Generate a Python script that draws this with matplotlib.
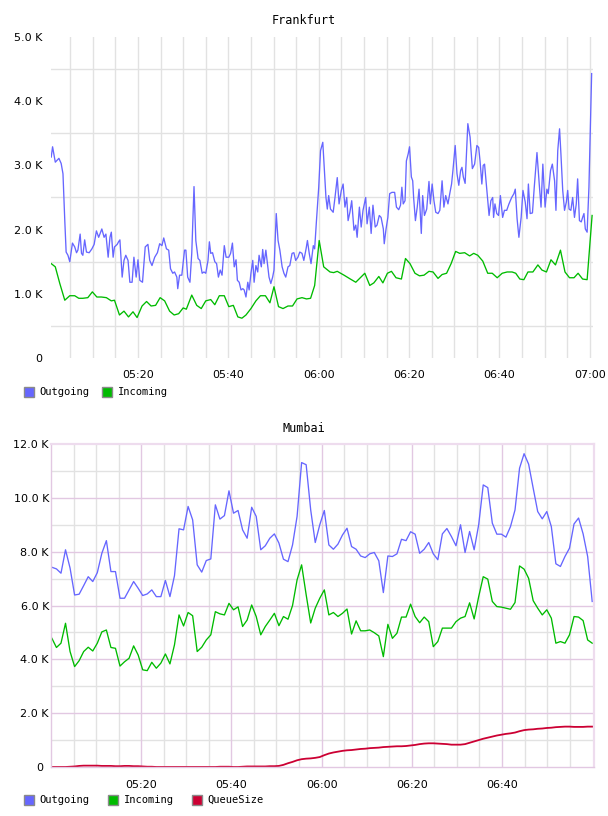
import numpy as np
import matplotlib
matplotlib.use("Agg")
import matplotlib.pyplot as plt
from matplotlib.patches import Rectangle
from matplotlib.transforms import ScaledTranslation

# ---------------- data (times in minutes after 05:00, values in K) -------------
fra_out_min = [0.8, 1.1, 1.7, 2.5, 3.0, 3.4, 3.8, 4.1, 4.5, 4.9, 5.5, 6.0, 6.4, 6.7, 7.2, 7.5, 7.8, 8.2, 8.6, 9.2,
               9.8, 10.3, 10.8, 11.3, 12.0, 12.5, 12.9, 13.4, 13.8, 14.1, 14.5, 14.8, 15.4, 15.7, 16.0, 16.5, 16.9, 17.3, 17.8, 18.2,
               18.7, 19.1, 19.6, 20.0, 20.4, 21.0, 21.6, 22.2, 22.6, 23.1, 23.7, 24.3, 24.8, 25.3, 25.7, 26.3, 26.8, 27.2, 27.7, 28.1,
               28.6, 28.8, 29.2, 29.7, 30.3, 30.6,
               31.0, 31.5, 31.9, 32.4, 32.8, 33.3, 33.7, 34.2, 34.6, 35.0, 35.5, 35.8, 36.1, 36.5, 37.0, 37.4, 37.8, 38.2, 38.6, 39.1,
               39.5, 40.1, 40.5, 40.9, 41.3, 41.7, 42.0, 42.4, 42.8, 43.2, 43.5, 43.9, 44.3, 44.6, 45.0, 45.4, 45.7, 46.1, 46.5, 46.8,
               47.3, 47.6, 47.9, 48.3, 48.7, 49.0, 49.4, 49.8, 50.1, 50.6, 51.0, 51.4, 51.9, 52.3, 52.7, 53.2, 53.6, 54.1, 54.5, 54.9,
               55.4, 55.8, 56.3, 56.7, 57.2, 57.5, 57.9, 58.3, 58.8, 59.1, 59.5, 60.0, 60.4, 60.9, 61.2, 61.6,
               61.9, 62.2, 62.6, 63.2, 63.6, 64.1, 64.5, 65.0, 65.4, 65.8, 66.2, 66.5, 66.9, 67.3, 67.8, 68.2, 68.5, 69.0, 69.4, 69.8,
               70.4, 70.7, 71.2, 71.6, 72.0, 72.5, 72.9, 73.4, 73.8, 74.3, 74.5, 74.9, 75.3, 75.7, 76.2, 76.8, 77.2, 77.7, 78.1, 78.4,
               78.7, 79.1, 79.4, 79.8, 80.1, 80.5, 80.8, 81.0, 81.4, 81.8, 82.2, 82.7, 83.0, 83.4, 83.9, 84.4, 84.7, 85.1, 85.5, 85.9,
               86.4, 86.8, 87.3, 87.7, 88.1, 88.6, 89.0, 89.4, 89.7, 90.2, 90.6, 91.0, 91.4, 91.7,
               92.0, 92.4, 93.0, 93.5, 94.0, 94.5, 95.0, 95.4, 95.7, 96.1, 96.4, 96.7, 97.2, 97.7, 98.1, 98.5, 98.7, 99.0, 99.4, 99.8,
               100.2, 100.7, 101.1, 101.6, 102.1, 102.7, 103.2, 103.5, 103.9, 104.3, 104.8, 105.2, 105.7, 106.1, 106.4, 106.8, 107.3, 107.7, 108.3, 108.8,
               109.2, 109.6, 110.1, 110.5, 110.8, 111.3, 111.7, 112.2, 112.5, 112.9, 113.3, 113.6, 114.0, 114.4, 114.8, 115.1, 115.4, 115.8, 116.2, 116.6,
               117.0, 117.3, 117.7, 118.1, 118.4, 118.7, 119.0, 119.4, 119.8, 120.4]
fra_out_k = [3.13, 3.29, 3.05, 3.11, 3.03, 2.87, 2.14, 1.65, 1.60, 1.50, 1.79, 1.73, 1.64, 1.68, 1.93, 1.63, 1.60, 1.84, 1.65, 1.64,
             1.70, 1.77, 1.98, 1.88, 2.01, 1.88, 1.93, 1.57, 1.88, 1.96, 1.57, 1.73, 1.77, 1.81, 1.84, 1.26, 1.52, 1.60, 1.52, 1.18,
             1.18, 1.57, 1.26, 1.53, 1.21, 1.18, 1.73, 1.77, 1.52, 1.44, 1.57, 1.64, 1.78, 1.75, 1.87, 1.70, 1.68, 1.39, 1.32, 1.34,
             1.26, 1.08, 1.29, 1.29, 1.68, 1.68,
             1.26, 1.18, 1.63, 2.67, 1.83, 1.55, 1.52, 1.32, 1.34, 1.32, 1.52, 1.81, 1.63, 1.64, 1.50, 1.47, 1.26, 1.37, 1.29, 1.75,
             1.57, 1.57, 1.63, 1.79, 1.42, 1.53, 1.21, 1.18, 1.06, 1.08, 1.06, 0.95, 1.18, 1.06, 1.32, 1.52, 1.18, 1.44, 1.34, 1.60,
             1.42, 1.69, 1.47, 1.68, 1.44, 1.26, 1.16, 1.26, 1.37, 2.25, 1.83, 1.68, 1.42, 1.32, 1.26, 1.42, 1.44, 1.63, 1.64, 1.52,
             1.57, 1.65, 1.63, 1.52, 1.70, 1.83, 1.63, 1.47, 1.75, 1.70, 2.14, 2.66, 3.23, 3.36, 3.00, 2.50,
             2.32, 2.53, 2.32, 2.27, 2.50, 2.81, 2.40, 2.61, 2.71, 2.35, 2.50, 2.14, 2.27, 2.45, 1.99, 2.07, 1.88, 2.35, 2.04, 2.30,
             2.50, 2.09, 2.35, 1.94, 2.38, 2.04, 2.07, 2.22, 2.19, 2.01, 1.78, 2.01, 2.19, 2.56, 2.58, 2.58, 2.35, 2.31, 2.38, 2.66,
             2.40, 2.45, 3.07, 3.18, 3.29, 2.82, 2.76, 2.50, 2.14, 2.35, 2.63, 1.94, 2.53, 2.22, 2.32, 2.75, 2.40, 2.71, 2.45, 2.27,
             2.25, 2.30, 2.76, 2.35, 2.53, 2.40, 2.56, 2.71, 2.92, 3.31, 2.87, 2.69, 2.92, 2.97,
             2.82, 2.72, 3.65, 3.44, 2.95, 3.02, 3.31, 3.28, 3.07, 2.71, 3.00, 3.02, 2.61, 2.22, 2.45, 2.50, 2.19, 2.40, 2.25, 2.22,
             2.53, 2.19, 2.30, 2.30, 2.40, 2.50, 2.56, 2.63, 2.17, 1.88, 2.19, 2.61, 2.43, 2.17, 2.71, 2.25, 2.26, 2.66, 3.20, 2.71,
             2.35, 3.02, 2.35, 2.63, 2.56, 2.92, 3.02, 2.76, 2.30, 3.23, 3.57, 3.18, 2.61, 2.30, 2.43, 2.61, 2.32, 2.30, 2.50, 2.19,
             2.40, 2.79, 2.14, 2.12, 2.19, 2.25, 2.01, 1.96, 2.66, 4.43]

fra_in_min = [0.8, 1.7, 2.7, 3.8, 4.9, 6.0, 6.9, 7.8, 8.9, 9.9, 10.9, 11.9, 13.0, 14.1, 14.8, 15.9, 16.9, 17.9, 18.9, 19.8,
              20.9, 21.9, 22.9, 23.9, 24.9, 25.9, 27.0, 28.0, 29.0, 30.0, 30.7, 31.9, 33.0, 34.0, 35.0, 36.1, 37.0, 38.0, 39.1, 40.1,
              41.1, 42.1, 43.0, 43.9, 45.0, 46.1, 47.1, 48.2, 49.2, 50.1, 51.1, 52.1, 53.2, 54.2, 55.2, 56.3, 57.3, 58.2, 59.1, 60.1,
              61.1, 62.5, 63.3, 64.1, 65.6, 67.0, 68.2, 69.2, 70.2, 71.3, 72.2, 73.3, 74.2, 75.2, 76.1, 77.1, 78.3, 79.2, 80.2, 81.3,
              82.3, 83.3, 84.4, 85.3, 86.4, 87.3, 88.3, 89.3, 90.3, 91.2, 92.3, 93.4, 94.3, 95.2, 96.3, 97.4, 98.4, 99.5, 100.6, 101.7,
              102.8, 103.6, 104.5, 105.4, 106.3, 107.4, 108.5, 109.4, 110.4, 111.4, 112.4, 113.5, 114.5, 115.5, 116.5, 117.4, 118.4, 119.4, 120.5]
fra_in_k = [1.47, 1.42, 1.16, 0.90, 0.97, 0.97, 0.93, 0.93, 0.94, 1.03, 0.95, 0.95, 0.94, 0.89, 0.90, 0.67, 0.73, 0.64, 0.72, 0.63,
            0.81, 0.88, 0.81, 0.82, 0.94, 0.89, 0.73, 0.67, 0.69, 0.78, 0.76, 0.98, 0.82, 0.77, 0.89, 0.91, 0.83, 0.97, 0.97, 0.80,
            0.82, 0.64, 0.62, 0.67, 0.77, 0.89, 0.97, 0.97, 0.86, 1.11, 0.80, 0.77, 0.81, 0.81, 0.92, 0.94, 0.92, 0.93, 1.13, 1.83,
            1.42, 1.34, 1.33, 1.35, 1.29, 1.23, 1.18, 1.25, 1.32, 1.13, 1.17, 1.27, 1.17, 1.32, 1.35, 1.25, 1.23, 1.55, 1.47, 1.32,
            1.28, 1.29, 1.35, 1.34, 1.24, 1.30, 1.32, 1.47, 1.66, 1.63, 1.64, 1.59, 1.63, 1.60, 1.51, 1.32, 1.32, 1.25, 1.32, 1.34,
            1.34, 1.32, 1.23, 1.22, 1.34, 1.34, 1.45, 1.37, 1.34, 1.53, 1.45, 1.68, 1.34, 1.25, 1.25, 1.32, 1.23, 1.22, 2.22]

# Mumbai: one sample per minute from 05:00
mum_out_k = [7.42, 7.36, 7.20, 8.07, 7.39, 6.39, 6.42, 6.74, 7.07, 6.89, 7.22, 7.94, 8.41, 7.26, 7.26, 6.27, 6.27, 6.58, 6.89, 6.64,
             6.37, 6.43, 6.58, 6.33, 6.33, 6.93, 6.33, 7.11, 8.85, 8.81, 9.68, 9.18, 7.51, 7.24, 7.67, 7.73, 9.74, 9.21, 9.34, 10.26,
             9.43, 9.53, 8.81, 8.50, 9.65, 9.31, 8.07, 8.22, 8.50, 8.66, 8.32, 7.72, 7.63, 8.25, 9.31, 11.31,
             11.23, 9.55, 8.34, 9.00, 9.53, 8.25, 8.09, 8.28, 8.62, 8.87, 8.19, 8.09, 7.84, 7.78, 7.92, 7.97, 7.66, 6.48, 7.84, 7.82,
             7.92, 8.46, 8.41, 8.74, 8.65, 7.94, 8.09, 8.34, 7.92, 7.70, 8.66, 8.86, 8.56, 8.22, 9.00, 7.97, 8.75, 8.07, 9.00, 10.48,
             10.38, 9.06, 8.65, 8.65, 8.54, 8.93, 9.55, 11.10, 11.64, 11.25, 10.36, 9.49, 9.22, 9.49, 8.93, 7.55, 7.45, 7.82, 8.13, 9.03,
             9.25, 8.66, 7.82, 6.15]
mum_in_k = [4.78, 4.44, 4.60, 5.34, 4.29, 3.73, 3.95, 4.29, 4.45, 4.31, 4.60, 5.02, 5.09, 4.44, 4.41, 3.75, 3.91, 4.04, 4.50, 4.16,
            3.61, 3.58, 3.89, 3.67, 3.86, 4.20, 3.83, 4.54, 5.65, 5.24, 5.74, 5.62, 4.29, 4.45, 4.72, 4.91, 5.77, 5.69, 5.65, 6.08,
            5.84, 5.95, 5.22, 5.46, 6.02, 5.59, 4.91, 5.22, 5.46, 5.71, 5.25, 5.59, 5.49, 6.00, 6.95, 7.51, 6.40, 5.35, 5.90, 6.27,
            6.58, 5.65, 5.74, 5.59, 5.71, 5.87, 4.94, 5.43, 5.06, 5.06, 5.09, 4.99, 4.87, 4.10, 5.30, 4.78, 4.97, 5.57, 5.57, 6.05,
            5.59, 5.36, 5.57, 5.40, 4.47, 4.66, 5.16, 5.16, 5.16, 5.40, 5.53, 5.59, 6.10, 5.50, 6.33, 7.07, 6.98, 6.15, 5.96, 5.94,
            5.90, 5.86, 6.11, 7.47, 7.35, 7.01, 6.18, 5.90, 5.65, 5.84, 5.53, 4.60, 4.66, 4.60, 4.91, 5.59, 5.57, 5.44, 4.72, 4.60]
mum_queue_k = [0.0, 0.0, 0.0, 0.0, 0.01, 0.02, 0.04, 0.05, 0.05, 0.05,
               0.05, 0.04, 0.04, 0.04, 0.03, 0.03, 0.04, 0.04, 0.03, 0.03, 0.02, 0.01,
               0.01, 0.0, 0.0, 0.0, 0.0, 0.0, 0.0, 0.0, 0.0, 0.0, 0.0, 0.0, 0.0, 0.0, 0.0, 0.01, 0.01, 0.01, 0.0, 0.0, 0.01, 0.02, 0.02,
               0.02, 0.02, 0.02, 0.03, 0.03, 0.04,
               0.08, 0.14, 0.19, 0.25, 0.29, 0.31, 0.32, 0.34, 0.37, 0.44,
               0.50, 0.54, 0.57, 0.60, 0.62, 0.63, 0.65, 0.67, 0.68, 0.70,
               0.71, 0.72, 0.74, 0.75, 0.76, 0.77, 0.77, 0.78, 0.80, 0.82,
               0.85, 0.87, 0.88, 0.88, 0.87, 0.86, 0.85, 0.83, 0.83, 0.83,
               0.85, 0.90, 0.95, 1.00, 1.05, 1.09, 1.13, 1.17, 1.20, 1.23,
               1.25, 1.28, 1.33, 1.37, 1.39, 1.40, 1.42, 1.43, 1.45, 1.46,
               1.48, 1.49, 1.50, 1.50, 1.49, 1.49, 1.49, 1.50, 1.50]

time_tick_min = [20, 40, 60, 80, 100, 120]
time_tick_labels = ["05:20", "05:40", "06:00", "06:20", "06:40", "07:00"]
fra_ytick_vals = [0, 1000, 2000, 3000, 4000, 5000]
fra_ytick_labels = ["0", "1.0 K", "2.0 K", "3.0 K", "4.0 K", "5.0 K"]
mum_ytick_vals = [0, 2000, 4000, 6000, 8000, 10000, 12000]
mum_ytick_labels = ["0", "2.0 K", "4.0 K", "6.0 K", "8.0 K", "10.0 K", "12.0 K"]
series_names = ["Outgoing", "Incoming", "QueueSize"]
titles = ["Frankfurt", "Mumbai"]

# ---------------- styling -------------
C_OUT, C_IN, C_Q = "#6666ff", "#00bb00", "#cc0033"
GRID_GREY = "#e2e2e2"
GRID_PINK = "#e2c8e2"
FRAME_PINK = "#eedcee"
W, H = 608, 816

fig = plt.figure(figsize=(W / 100, H / 100), dpi=100)
fig.patch.set_facecolor("white")


def fx(px):
    return px / W


def fy(py):
    return 1 - py / H


def k(vals):
    return np.asarray(vals) * 1000.0


# ---------------- Frankfurt -------------
ax1 = fig.add_axes([fx(51), fy(358), fx(593 - 51), (358 - 37) / H])
ax1.plot(fra_out_min, k(fra_out_k), color=C_OUT, lw=0.95, solid_joinstyle="round")
ax1.plot(fra_in_min, k(fra_in_k), color=C_IN, lw=0.95, solid_joinstyle="round")
ax1.set_xlim(0.75, 120.7)
ax1.set_ylim(0, 5000)
ax1.set_xticks(time_tick_min)
ax1.set_xticklabels(time_tick_labels)
ax1.set_yticks(fra_ytick_vals)
ax1.set_yticklabels(fra_ytick_labels)
for xv in np.arange(5, 121, 5):
    ax1.axvline(xv, color=GRID_GREY, lw=1.0, zorder=0)
for yv in np.arange(500, 5000, 1000):
    ax1.axhline(yv, color=GRID_GREY, lw=1.0, zorder=0)
for s in ax1.spines.values():
    s.set_visible(False)
ax1.tick_params(axis="both", which="both", length=0)
ax1.tick_params(axis="y", pad=6, labelsize=8)
ax1.tick_params(axis="x", pad=9, labelsize=8)

# ---------------- Mumbai -------------
ax2 = fig.add_axes([fx(51), fy(767), fx(594 - 51), (767 - 444) / H])
mum_min = np.linspace(0.2, 120.0, len(mum_out_k))
ax2.plot(mum_min, k(mum_out_k), color=C_OUT, lw=0.95, solid_joinstyle="round")
ax2.plot(mum_min, k(mum_in_k), color=C_IN, lw=0.95, solid_joinstyle="round")
ax2.plot(mum_min, k(mum_queue_k), color=C_Q, lw=1.3, solid_joinstyle="round")
ax2.set_xlim(0, 120.4)
ax2.set_ylim(0, 12000)
ax2.set_xticks(time_tick_min[:-1])
ax2.set_xticklabels(time_tick_labels[:-1])
ax2.set_yticks(mum_ytick_vals)
ax2.set_yticklabels(mum_ytick_labels)
for xv in np.arange(5, 120, 5):
    major = (xv % 20 == 0)
    ax2.axvline(xv, color=GRID_PINK if major else GRID_GREY, lw=1.0, zorder=0.5 if major else 0)
for yv in np.arange(1000, 12000, 1000):
    major = (yv % 2000 == 0)
    ax2.axhline(yv, color=GRID_PINK if major else GRID_GREY, lw=1.0, zorder=0.5 if major else 0)
for s in ax2.spines.values():
    s.set_color(FRAME_PINK)
    s.set_linewidth(1.6)
ax2.spines["left"].set_color(GRID_PINK)
ax2.spines["left"].set_linewidth(1.0)
ax2.spines["bottom"].set_color(GRID_PINK)
ax2.spines["bottom"].set_linewidth(1.0)
ax2.tick_params(axis="both", which="both", length=0)
ax2.tick_params(axis="y", pad=1.5, labelsize=8)
ax2.tick_params(axis="x", pad=9, labelsize=8)
# the plain "0" label sits a little further left than the "K" labels
zero_lbl = ax2.get_yticklabels()[0]
zero_lbl.set_transform(zero_lbl.get_transform() + ScaledTranslation(-0.06, 0, fig.dpi_scale_trans))

# ---------------- titles -------------
mono = "DejaVu Sans Mono"
fig.text(0.5, fy(20), titles[0], ha="center", va="center", family=mono, fontsize=8.5)
fig.text(0.5, fy(428), titles[1], ha="center", va="center", family=mono, fontsize=8.5)

# ---------------- legends -------------
def legend_item(x_box, x_text, y_center, color, label):
    size = 10
    fig.add_artist(Rectangle((fx(x_box), fy(y_center + size / 2)), size / W, size / H,
                             transform=fig.transFigure, facecolor=color,
                             edgecolor="#8a8a8a", lw=1.0))
    fig.text(fx(x_text), fy(y_center), label, ha="left", va="center",
             family=mono, fontsize=7.5)


legend_item(24, 39, 392, C_OUT, series_names[0])
legend_item(102, 118, 392, C_IN, series_names[1])
legend_item(24, 39, 800, C_OUT, series_names[0])
legend_item(108, 124, 800, C_IN, series_names[1])
legend_item(192, 207, 800, C_Q, series_names[2])

fig.savefig("out.png", dpi=100, facecolor="white")
